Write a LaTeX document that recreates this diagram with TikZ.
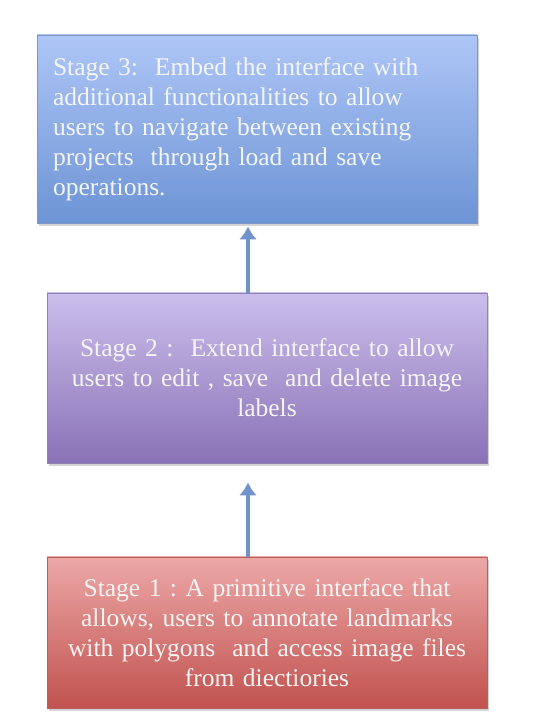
\documentclass[tikz,border=0pt]{standalone}
\usepackage{fontspec}
\setmainfont{Liberation Serif}
\usetikzlibrary{arrows.meta,shadows}
\frenchspacing
\definecolor{bluetop}{HTML}{AEC6F7}
\definecolor{bluebot}{HTML}{6D94D5}
\definecolor{blueline}{HTML}{7E98C6}
\definecolor{purptop}{HTML}{CBBEEC}
\definecolor{purpbot}{HTML}{8A72B6}
\definecolor{purpline}{HTML}{9383B3}
\definecolor{redtop}{HTML}{ECA8A7}
\definecolor{redbot}{HTML}{C1524F}
\definecolor{redline}{HTML}{B9605E}
\definecolor{arrowblue}{HTML}{6F92CA}

\begin{document}
\begin{tikzpicture}[x=1pt,y=1pt,
    stagebox/.style={draw,line width=0.8pt,minimum width=440pt,inner xsep=16pt,
        text=white!96!black,font=\fontsize{25.5}{30}\selectfont,
        drop shadow={opacity=0.35,shadow xshift=2pt,shadow yshift=-3pt}},
    uparrow/.style={arrowblue,line width=4.5pt,-{Latex[length=13pt,width=18pt]}}]
    \useasboundingbox (0,0) rectangle (535,728);
    \node[stagebox,draw=blueline,top color=bluetop,bottom color=bluebot,
        minimum height=188pt,text width=408pt,align=left] (s3) at (257,599)
        {Stage 3:\ \ Embed the interface with\\additional functionalities to allow\\users to navigate between existing\\projects\ \ through load and save\\operations.};
    \node[stagebox,draw=purpline,top color=purptop,bottom color=purpbot,
        minimum height=170pt,text width=408pt,align=center] (s2) at (267,350)
        {Stage 2 :\ \ Extend interface to allow\\users to edit , save\ \ and delete image\\labels};
    \node[stagebox,draw=redline,top color=redtop,bottom color=redbot,
        minimum height=151pt,text width=408pt,align=center] (s1) at (267,95.5)
        {Stage 1 : A primitive interface that\\allows, users to annotate landmarks\\with polygons\ \ and access image files\\from diectiories};
    \coordinate (ax) at (248,0);
    \draw[uparrow] (s1.north -| ax) -- ([yshift=-19pt]s2.south -| ax);
    \draw[uparrow] (s2.north -| ax) -- ([yshift=-3pt]s3.south -| ax);
\end{tikzpicture}
\end{document}
